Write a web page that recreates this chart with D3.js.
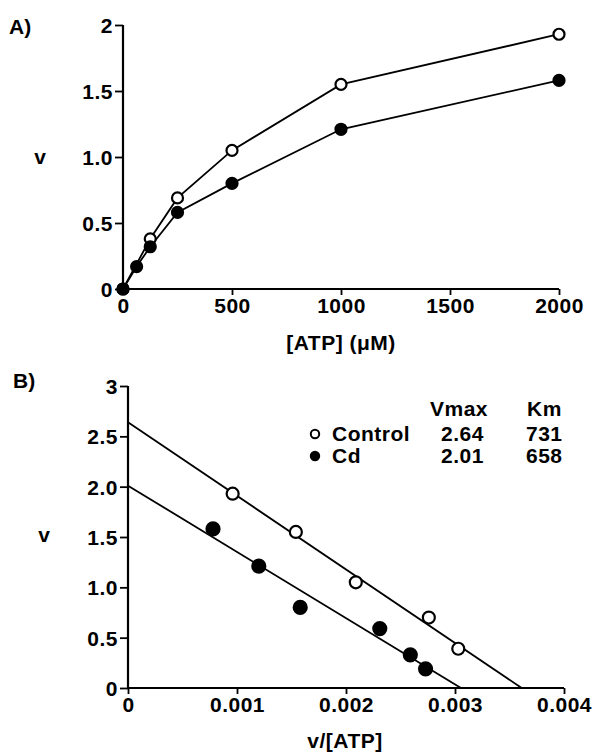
<!DOCTYPE html>
<html>
<head>
<meta charset="utf-8">
<script src="https://cdn.jsdelivr.net/npm/d3@7"></script>
<style>
  body { margin: 0; background: #fff; }
  text { font-family: "Liberation Sans", Arial, sans-serif; font-weight: bold; fill: #000; }
</style>
</head>
<body>
<script>
// Panel A: v vs [ATP]
var ctrlAtp = [0, 125, 250, 500, 1000, 2000];
var ctrlV   = [0, 0.38, 0.69, 1.05, 1.55, 1.93];
var cdAtp   = [0, 62.5, 125, 250, 500, 1000, 2000];
var cdV     = [0, 0.17, 0.32, 0.58, 0.80, 1.21, 1.58];

// Panel B: Eadie-Hofstee, v vs v/[ATP]
var ctrlRatio = [0.00096, 0.00154, 0.00209, 0.00276, 0.00303];
var ctrlVB    = [1.93, 1.55, 1.05, 0.70, 0.39];
var cdRatio   = [0.00078, 0.00120, 0.00158, 0.00231, 0.00259, 0.00273];
var cdVB      = [1.58, 1.21, 0.80, 0.59, 0.33, 0.19];

var groups = ["Control", "Cd"];
var vmax = [2.64, 2.01];
var km = [731, 658];

var xTicksA = [0, 500, 1000, 1500, 2000];
var yTicksA = [0, 0.5, 1.0, 1.5, 2];
var yLabelsA = ["0", "0.5", "1.0", "1.5", "2"];
var xTicksB = [0, 0.001, 0.002, 0.003, 0.004];
var xLabelsB = ["0", "0.001", "0.002", "0.003", "0.004"];
var yTicksB = [0, 0.5, 1.0, 1.5, 2.0, 2.5, 3];
var yLabelsB = ["0", "0.5", "1.0", "1.5", "2.0", "2.5", "3"];

var FS = 21;

var svg = d3.select("body").append("svg")
    .attr("width", 599).attr("height", 755);

function axes(x, y, xt, xl, yt, yl) {
  var g = svg.append("g");
  var xa = d3.axisBottom(x).tickValues(xt).tickSize(6).tickPadding(3)
      .tickFormat(function(d, i) { return xl[i]; });
  var ya = d3.axisLeft(y).tickValues(yt).tickSize(8).tickPadding(2)
      .tickFormat(function(d, i) { return yl[i]; });
  var gx = g.append("g").attr("transform", "translate(0," + y.range()[0] + ")").call(xa);
  var gy = g.append("g").attr("transform", "translate(" + x.range()[0] + ",0)").call(ya);
  [gx, gy].forEach(function(a) {
    a.select(".domain").attr("stroke", "#000").attr("stroke-width", 2.2);
    a.selectAll(".tick line").attr("stroke", "#000").attr("stroke-width", 1.8);
    a.selectAll("text").attr("font-size", FS).attr("font-family", null)
      .style("letter-spacing", "0.5px");
  });
  gy.selectAll("text").attr("dy", "0.36em");
  gx.selectAll("text").attr("dy", "0.7em");
  // plain axis lines without end caps
  gx.select(".domain").attr("d", "M" + x.range()[0] + ",0H" + x.range()[1]);
  gy.select(".domain").attr("d", "M0," + y.range()[0] + "V" + y.range()[1]);
}

function dots(x, y, xs, ys, filled, r) {
  svg.append("g").selectAll("circle").data(xs).join("circle")
    .attr("cx", function(d) { return x(d); })
    .attr("cy", function(d, i) { return y(ys[i]); })
    .attr("r", r)
    .attr("fill", filled ? "#000" : "#fff")
    .attr("stroke", "#000").attr("stroke-width", 2.2);
}

// ---------- Panel A ----------
var xA = d3.scaleLinear().domain([0, 2000]).range([123, 559]);
var yA = d3.scaleLinear().domain([0, 2]).range([289, 25]);
axes(xA, yA, xTicksA, xTicksA.map(String), yTicksA, yLabelsA);

var lineA = d3.line();
svg.append("path")
  .attr("d", lineA(ctrlAtp.map(function(d, i) { return [xA(d), yA(ctrlV[i])]; })))
  .attr("fill", "none").attr("stroke", "#000").attr("stroke-width", 1.8);
svg.append("path")
  .attr("d", lineA(cdAtp.map(function(d, i) { return [xA(d), yA(cdV[i])]; })))
  .attr("fill", "none").attr("stroke", "#000").attr("stroke-width", 1.8);
dots(xA, yA, ctrlAtp, ctrlV, false, 5.5);
dots(xA, yA, cdAtp, cdV, true, 5.5);

svg.append("text").attr("x", 9).attr("y", 34).attr("font-size", FS).text("A)");
svg.append("text").attr("x", 40).attr("y", 164).attr("font-size", FS)
  .attr("text-anchor", "middle").text("v");
svg.append("text").attr("x", 341).attr("y", 350).attr("font-size", FS)
  .attr("text-anchor", "middle").style("letter-spacing", "0.5px")
  .text("[ATP] (\u03BCM)");

// ---------- Panel B ----------
var xB = d3.scaleLinear().domain([0, 0.004]).range([128, 564]);
var yB = d3.scaleLinear().domain([0, 3]).range([688, 386]);
axes(xB, yB, xTicksB, xLabelsB, yTicksB, yLabelsB);

// fitted lines: v = Vmax - Km * (v/[ATP])
groups.forEach(function(g, i) {
  svg.append("path")
    .attr("d", d3.line()([[xB(0), yB(vmax[i])], [xB(vmax[i] / km[i]), yB(0)]]))
    .attr("fill", "none").attr("stroke", "#000").attr("stroke-width", 1.8);
});
dots(xB, yB, ctrlRatio, ctrlVB, false, 6);
dots(xB, yB, cdRatio, cdVB, true, 6.5);

svg.append("text").attr("x", 13).attr("y", 388).attr("font-size", FS).text("B)");
svg.append("text").attr("x", 44).attr("y", 542).attr("font-size", FS)
  .attr("text-anchor", "middle").text("v");
svg.append("text").attr("x", 345).attr("y", 748).attr("font-size", FS)
  .attr("text-anchor", "middle").style("letter-spacing", "0.5px")
  .text("v/[ATP]");

// legend table
var leg = svg.append("g").style("letter-spacing", "0.5px");
leg.append("text").attr("x", 430).attr("y", 416).attr("font-size", FS).text("Vmax");
leg.append("text").attr("x", 527).attr("y", 416).attr("font-size", FS).text("Km");
groups.forEach(function(g, i) {
  var yy = 441 + i * 22;
  leg.append("circle").attr("cx", 315).attr("cy", yy - 7).attr("r", 4.2)
    .attr("fill", i ? "#000" : "#fff").attr("stroke", "#000").attr("stroke-width", 2);
  leg.append("text").attr("x", 332).attr("y", yy).attr("font-size", FS).text(g);
  leg.append("text").attr("x", 441).attr("y", yy).attr("font-size", FS).text(vmax[i].toFixed(2));
  leg.append("text").attr("x", 526).attr("y", yy).attr("font-size", FS).text(km[i]);
});
</script>
</body>
</html>
